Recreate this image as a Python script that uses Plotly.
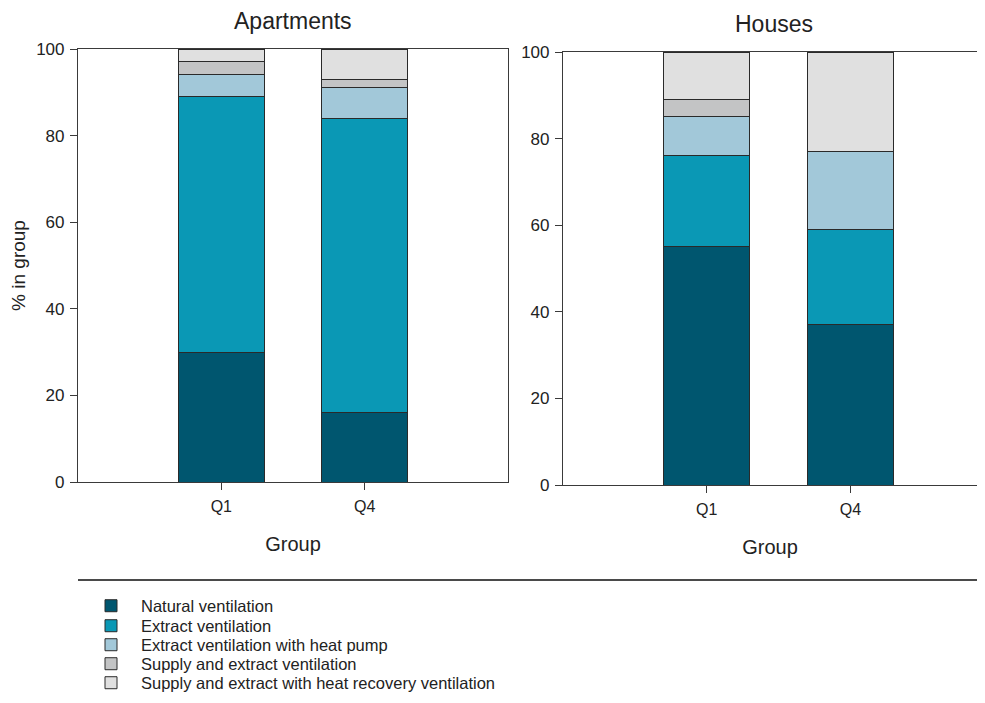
import plotly.graph_objects as go

# ---------------- data ----------------
categories = ["Q1", "Q4"]
series_names = [
    "Natural ventilation",
    "Extract ventilation",
    "Extract ventilation with heat pump",
    "Supply and extract ventilation",
    "Supply and extract with heat recovery ventilation",
]
panel_titles = ["Apartments", "Houses"]
x_title = "Group"
y_title = "% in group"

apt_natural = [30, 16]
apt_extract = [59, 68]
apt_extract_hp = [5, 7]
apt_supply_extract = [3, 2]
apt_hrv = [3, 7]

house_natural = [55, 37]
house_extract = [21, 22]
house_extract_hp = [9, 18]
house_supply_extract = [4, 0]
house_hrv = [11, 23]

y_ticks = [0, 20, 40, 60, 80, 100]

# ---------------- style ----------------
colors = ["#00566f", "#0a98b5", "#a2c8d9", "#c3c4c5", "#e0e0e0"]
FONT = "Liberation Sans, Arial, sans-serif"
OFF = 8                      # page body margin of the browser
FW, FH = 985 - 2 * OFF, 703 - 2 * OFF


def px_x(p):
    """screen x pixel -> paper fraction"""
    return (p - OFF) / FW


def px_y(p):
    """screen y pixel -> paper fraction"""
    return (FH - (p - OFF)) / FH


apt_series = [apt_natural, apt_extract, apt_extract_hp, apt_supply_extract, apt_hrv]
house_series = [house_natural, house_extract, house_extract_hp, house_supply_extract, house_hrv]
legend_ids = ["legend", "legend2", "legend3", "legend4", "legend5"]

fig = go.Figure()
for i, (name, vals) in enumerate(zip(series_names, apt_series)):
    fig.add_trace(go.Bar(
        x=categories, y=vals, name=name, legendgroup=name, legend=legend_ids[i],
        marker=dict(color=colors[i], line=dict(color="#2a2a2a", width=1)),
        width=0.6, xaxis="x", yaxis="y", showlegend=True,
    ))
for i, (name, vals) in enumerate(zip(series_names, house_series)):
    fig.add_trace(go.Bar(
        x=categories, y=vals, name=name, legendgroup=name, legend=legend_ids[i],
        marker=dict(color=colors[i], line=dict(color="#2a2a2a", width=1)),
        width=0.6, xaxis="x2", yaxis="y2", showlegend=False,
    ))

axis_common = dict(
    showgrid=False, zeroline=False, showline=True, linecolor="#3a3a3a", linewidth=1.2,
    ticks="outside", tickcolor="#3a3a3a", ticklen=7, tickwidth=1,
    color="#222222",
)

right_edge = 985 - OFF
layout = dict(
    width=FW, height=FH,
    margin=dict(l=0, r=0, t=0, b=0, autoexpand=False),
    paper_bgcolor="white", plot_bgcolor="white",
    barmode="stack",
    font=dict(family=FONT, color="#222222"),
    xaxis=dict(axis_common, domain=[px_x(78), px_x(508)], anchor="y", type="category",
               range=[-1, 2], mirror=True, tickfont=dict(size=16), ticklabelstandoff=3,
               title=dict(text=x_title, font=dict(size=20), standoff=22)),
    yaxis=dict(axis_common, domain=[px_y(482), px_y(49)], anchor="x", range=[0, 100],
               tickvals=y_ticks, mirror=True, tickfont=dict(size=17), ticklabelstandoff=2,
               title=dict(text=y_title, font=dict(size=19), standoff=10)),
    xaxis2=dict(axis_common, domain=[px_x(563), 1.0], anchor="y2", type="category",
                range=[-1, 1 + (right_edge - 851) / 143], mirror=True,
                tickfont=dict(size=16), ticklabelstandoff=3,
                title=dict(text=x_title, font=dict(size=20), standoff=22)),
    yaxis2=dict(axis_common, domain=[px_y(485), px_y(52)], anchor="x2", range=[0, 100],
                tickvals=y_ticks, mirror=False, tickfont=dict(size=17), ticklabelstandoff=2),
    showlegend=True,
)

row_centers = [606, 626, 645, 664, 683]
for lid, yc in zip(legend_ids, row_centers):
    layout[lid] = dict(
        x=px_x(81), y=px_y(yc), xanchor="left", yanchor="middle",
        font=dict(size=16.5, color="#222222"), itemwidth=50,
        bgcolor="rgba(0,0,0,0)",
    )

fig.update_layout(**layout)

# panel titles
fig.add_annotation(text=panel_titles[0], x=px_x(293), y=px_y(21), xref="paper", yref="paper",
                   showarrow=False, font=dict(size=23, family=FONT, color="#222222"),
                   xanchor="center", yanchor="middle")
fig.add_annotation(text=panel_titles[1], x=px_x(774), y=px_y(24), xref="paper", yref="paper",
                   showarrow=False, font=dict(size=23, family=FONT, color="#222222"),
                   xanchor="center", yanchor="middle")

# separator line above legend
fig.add_shape(type="line", xref="paper", yref="paper",
              x0=px_x(78), x1=1.0, y0=px_y(580), y1=px_y(580),
              line=dict(color="#4a4a4a", width=2))

fig.write_html("out.html")
